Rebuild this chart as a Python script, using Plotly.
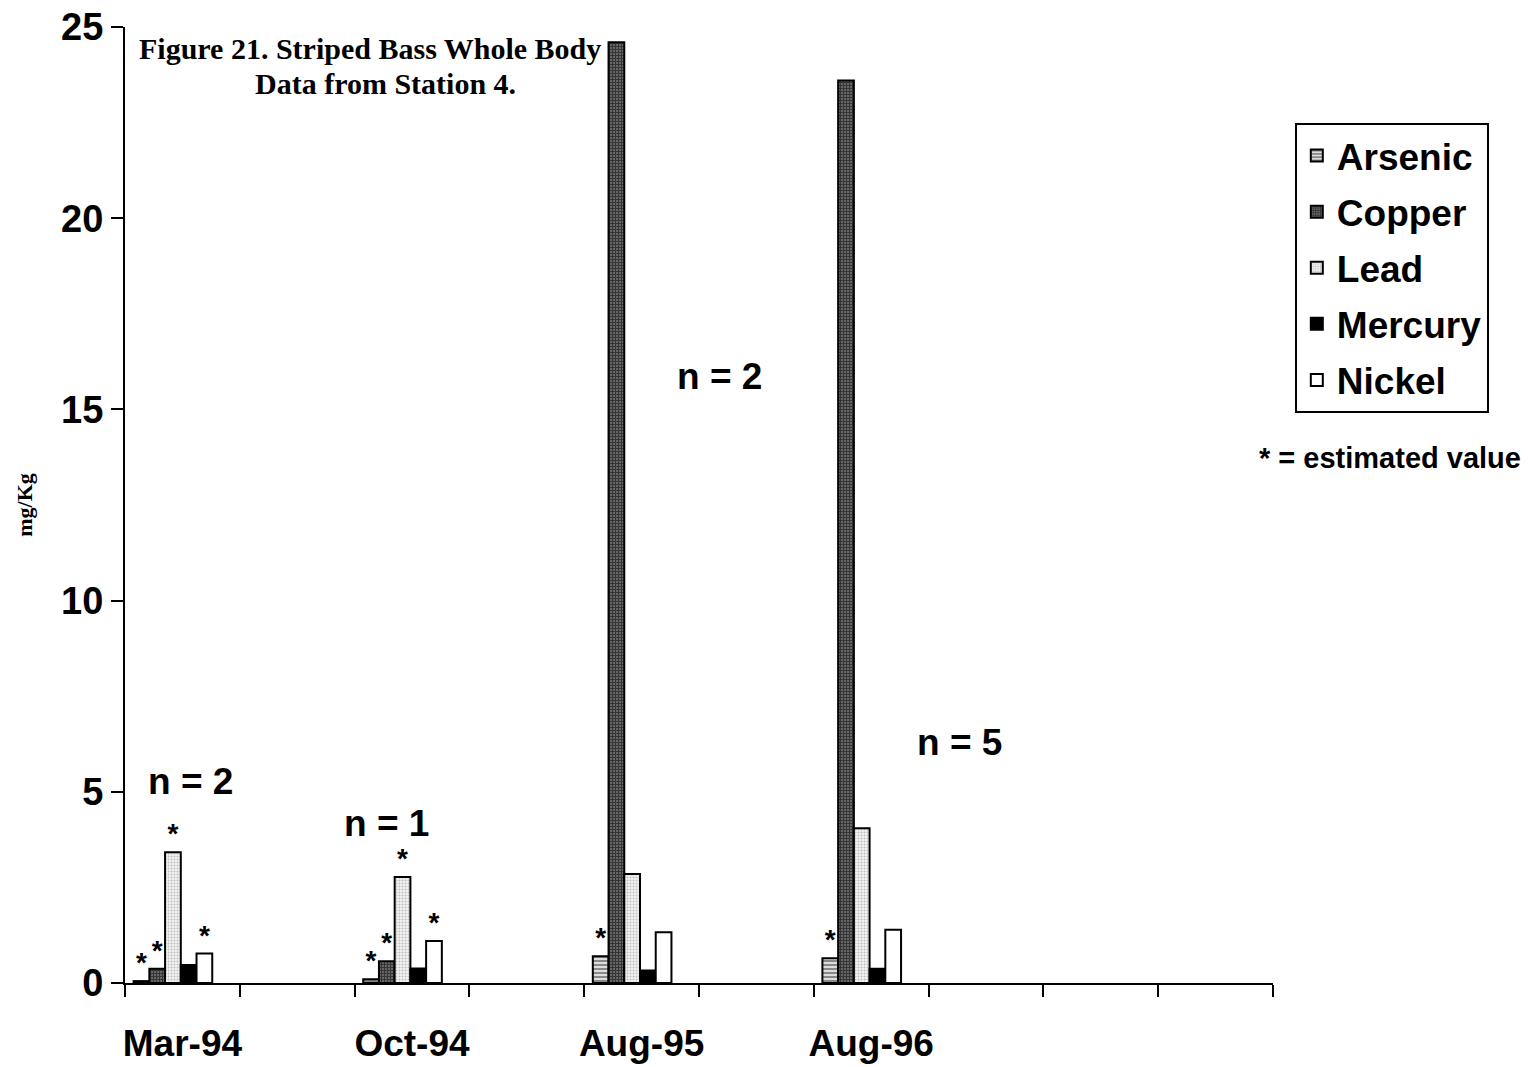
import plotly.graph_objects as go

# Category slots along the x axis (blank slots keep the empty sampling periods)
CATEGORIES = ["Mar-94", " ", "Oct-94", "  ", "Aug-95", "   ", "Aug-96", "    ", "     ", "      "]
DATES = ["Mar-94", "Oct-94", "Aug-95", "Aug-96"]

# Whole-body concentrations, mg/Kg
ARSENIC = [0.05, 0.10, 0.70, 0.65]
COPPER = [0.37, 0.57, 24.6, 23.6]
LEAD = [3.42, 2.77, 2.85, 4.05]
MERCURY = [0.47, 0.38, 0.33, 0.37]
NICKEL = [0.77, 1.10, 1.33, 1.39]

# Estimated-value flags (shown as "*")
ARSENIC_EST = [True, True, True, True]
COPPER_EST = [True, True, False, False]
LEAD_EST = [True, True, False, False]
MERCURY_EST = [False, False, False, False]
NICKEL_EST = [True, True, False, False]

# Number of fish per sample
SAMPLE_N = [2, 1, 2, 5]

SERIES = [
    ("Arsenic", ARSENIC, ARSENIC_EST),
    ("Copper", COPPER, COPPER_EST),
    ("Lead", LEAD, LEAD_EST),
    ("Mercury", MERCURY, MERCURY_EST),
    ("Nickel", NICKEL, NICKEL_EST),
]

STYLES = {
    "Arsenic": dict(color="#ffffff", pattern=dict(shape="-", fgcolor="#222222", bgcolor="#dddddd", size=4, solidity=0.45)),
    "Copper": dict(color="#333333", pattern=dict(shape="+", fgcolor="#000000", bgcolor="#6a6a6a", size=3, solidity=0.6)),
    "Lead": dict(color="#ffffff", pattern=dict(shape=".", fgcolor="#8c8c8c", bgcolor="#f2f2f2", size=3, solidity=0.35)),
    "Mercury": dict(color="#000000"),
    "Nickel": dict(color="#ffffff"),
}

BAR_W = 0.137
START = -0.425
FONT = "Liberation Sans"

fig = go.Figure()
for i, (name, vals, est) in enumerate(SERIES):
    st = STYLES[name]
    marker = dict(color=st["color"], line=dict(color="#000000", width=2))
    if "pattern" in st:
        marker["pattern"] = st["pattern"]
    fig.add_trace(go.Bar(
        name=name,
        x=DATES,
        y=vals,
        width=BAR_W,
        offset=START + i * BAR_W,
        marker=marker,
        text=["*" if e else "" for e in est],
        textposition="outside",
        constraintext="none",
        cliponaxis=False,
        textfont=dict(family=FONT, size=28, color="#000000", weight="bold"),
        legendgroup=name,
    ))

# sample-size labels
N_LABEL_POS = [(0.07, 5.26), (1.78, 4.18), (4.68, 15.87), (6.77, 6.3)]
for n, (xp, yp) in zip(SAMPLE_N, N_LABEL_POS):
    fig.add_annotation(x=xp, y=yp, xref="x", yref="y", text=f"n = {n}", showarrow=False,
                       xanchor="center", yanchor="middle",
                       font=dict(family=FONT, size=37, color="#000000", weight="bold"))

fig.add_annotation(xref="paper", yref="paper", x=0.213, y=0.978, xanchor="center", yanchor="middle",
                   text="Figure 21. Striped Bass Whole Body", showarrow=False,
                   font=dict(family="Liberation Serif", size=30, color="#000000", weight="bold"))
fig.add_annotation(xref="paper", yref="paper", x=0.2265, y=0.941, xanchor="center", yanchor="middle",
                   text="Data from Station 4.", showarrow=False,
                   font=dict(family="Liberation Serif", size=30, color="#000000", weight="bold"))
fig.add_annotation(xref="paper", yref="paper", x=1.102, y=0.549, xanchor="center", yanchor="middle",
                   text="* = estimated value", showarrow=False,
                   font=dict(family=FONT, size=29, color="#000000", weight="bold"))

fig.update_layout(
    width=1530, height=1067,
    margin=dict(l=125, r=257, t=27, b=84),
    paper_bgcolor="#ffffff", plot_bgcolor="#ffffff",
    showlegend=True,
    legend=dict(x=1.019, y=0.8996, xanchor="left", yanchor="top",
                bordercolor="#000000", borderwidth=2, bgcolor="#ffffff",
                font=dict(family=FONT, size=37, color="#000000", weight="bold"),
                tracegroupgap=5, traceorder="grouped"),
    xaxis=dict(type="category", categoryorder="array", categoryarray=CATEGORIES,
               range=[-0.5, 9.5], tickson="boundaries", ticks="outside", ticklen=12,
               tickwidth=2, tickcolor="#000000", showline=True, linecolor="#000000",
               linewidth=2, showgrid=False, zeroline=False, ticklabelstandoff=27,
               tickangle=0, automargin=False,
               tickfont=dict(family=FONT, size=37, color="#000000", weight="bold")),
    yaxis=dict(range=[0, 25], tickvals=[0, 5, 10, 15, 20, 25], ticks="outside",
               ticklen=12, tickwidth=2, tickcolor="#000000", showline=True,
               linecolor="#000000", linewidth=2, showgrid=False, zeroline=False,
               automargin=False,
               tickfont=dict(family=FONT, size=38, color="#000000", weight="bold"),
               title=dict(text="mg/Kg", standoff=22,
                          font=dict(family="Liberation Serif", size=22, color="#000000", weight="bold"))),
)

fig.write_html("out.html")
